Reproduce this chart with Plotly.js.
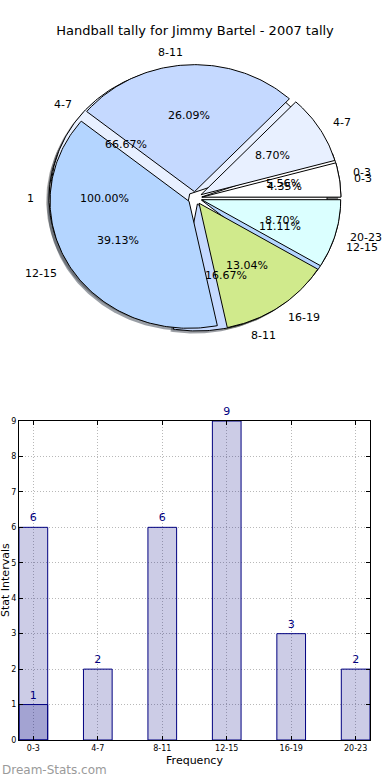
<!DOCTYPE html>
<html>
<head>
<meta charset="utf-8">
<script src="https://cdn.plot.ly/plotly-3.0.1.min.js"></script>
<style>html,body{margin:0;padding:0;background:#fff;}#chart{width:390px;height:780px;}</style>
</head>
<body>
<div id="chart"></div>
<script>
// ---------- data ----------
const chartTitle = "Handball tally for Jimmy Bartel - 2007 tally";
const pieOuterLabels = ["0-3", "4-7", "8-11", "12-15", "16-19", "20-23"];
const pieOuterValues = [1, 2, 6, 9, 3, 2];
const pieMiddleLabels = ["0-3", "4-7", "8-11", "12-15"];
const pieMiddleValues = [1, 12, 3, 2];
const pieBackLabels = ["1"];
const pieBackValues = [1];
const sliceColors = ["#ffffff", "#e8f0ff", "#c5d9ff", "#b4d5ff", "#d0ea8c", "#dbffff"];

const barCategories = ["0-3", "4-7", "8-11", "12-15", "16-19", "20-23"];
const barSeriesA = [1, 2, 6, 9, 3, 2];
const barSeriesBCategories = ["0-3"];
const barSeriesB = [6];
const xAxisTitle = "Frequency";
const yAxisTitle = "Stat Intervals";
const watermark = "Dream-Stats.com";

// ---------- pie geometry (drawn in axis units, radius 1) ----------
const EXPLODE = 0.05;
const SHADOW_OFF = -0.02;
const FONT = "DejaVu Sans, sans-serif";

function hexToRgb(h) {
  const n = parseInt(h.slice(1), 16);
  return [(n >> 16) & 255, (n >> 8) & 255, n & 255];
}

function buildPie(labels, values) {
  const total = values.reduce((a, b) => a + b, 0);
  let start = 0;
  const slices = [];
  values.forEach((v, i) => {
    const frac = v / total;
    const a1 = start * 2 * Math.PI;
    const a2 = (start + frac) * 2 * Math.PI;
    const am = (a1 + a2) / 2;
    const cx = EXPLODE * Math.cos(am), cy = EXPLODE * Math.sin(am);
    const xs = [], ys = [];
    const full = frac >= 0.9999;
    if (!full) { xs.push(cx); ys.push(cy); }
    const n = Math.max(2, Math.ceil((a2 - a1) / (Math.PI / 180)));
    for (let k = 0; k <= n; k++) {
      const a = a1 + (a2 - a1) * k / n;
      xs.push(cx + Math.cos(a)); ys.push(cy + Math.sin(a));
    }
    if (!full) { xs.push(cx); ys.push(cy); }
    slices.push({ xs, ys, am, cx, cy, color: sliceColors[i % sliceColors.length],
                  label: labels[i], pct: (frac * 100).toFixed(2) + "%" });
    start += frac;
  });
  return slices;
}

const pies = [buildPie(pieBackLabels, pieBackValues),
              buildPie(pieMiddleLabels, pieMiddleValues),
              buildPie(pieOuterLabels, pieOuterValues)];

const traces = [];
// shadows first (below every wedge)
pies.forEach(p => p.forEach(s => {
  const c = hexToRgb(s.color).map(v => Math.round(v * 0.3));
  traces.push({ type: "scatter", mode: "lines", xaxis: "x2", yaxis: "y2",
    x: s.xs.map(v => v + SHADOW_OFF), y: s.ys.map(v => v + SHADOW_OFF),
    fill: "toself", fillcolor: `rgba(${c[0]},${c[1]},${c[2]},0.5)`,
    line: { width: 0 }, hoverinfo: "skip", showlegend: false });
}));
// wedges
pies.forEach(p => p.forEach(s => {
  traces.push({ type: "scatter", mode: "lines", xaxis: "x2", yaxis: "y2",
    x: s.xs, y: s.ys, fill: "toself", fillcolor: s.color,
    line: { color: "#000000", width: 1 }, hoverinfo: "skip", showlegend: false });
}));

const annotations = [];
pies.forEach(p => p.forEach(s => {
  const c = Math.cos(s.am), sn = Math.sin(s.am);
  annotations.push({ xref: "x2", yref: "y2", x: s.cx + 1.1 * c, y: s.cy + 1.1 * sn,
    text: s.label, showarrow: false, xanchor: c > 0 ? "left" : "right", yanchor: "middle",
    borderpad: 0, font: { family: FONT, size: 11, color: "#000" } });
  annotations.push({ xref: "x2", yref: "y2", x: s.cx + 0.6 * c, y: s.cy + 0.6 * sn,
    text: s.pct, showarrow: false, xanchor: "center", yanchor: "middle",
    borderpad: 0, font: { family: FONT, size: 11, color: "#000" } });
}));

// ---------- bars ----------
traces.push({ type: "bar", x: barCategories, y: barSeriesA, width: 0.445,
  marker: { color: "rgba(0,0,128,0.2)", line: { color: "#000080", width: 1 } },
  text: barSeriesA.map(String), textposition: "outside", cliponaxis: false,
  textfont: { family: FONT, size: 11, color: "#000080" },
  hoverinfo: "skip", showlegend: false });
traces.push({ type: "bar", x: barSeriesBCategories, y: barSeriesB, width: 0.445,
  marker: { color: "rgba(0,0,128,0.2)", line: { color: "#000080", width: 1 } },
  text: barSeriesB.map(String), textposition: "outside", cliponaxis: false,
  textfont: { family: FONT, size: 11, color: "#000080" },
  hoverinfo: "skip", showlegend: false });

annotations.push({ xref: "paper", yref: "paper", x: 0, y: 1 - 770 / 780,
  xanchor: "left", yanchor: "middle", showarrow: false, text: watermark,
  font: { family: FONT, size: 12, color: "#9a9a9a" } });
annotations.push({ xref: "paper", yref: "paper", x: 5 / 390, y: 1 - 580 / 780,
  xanchor: "center", yanchor: "middle", showarrow: false, text: yAxisTitle, textangle: -90,
  borderpad: 0, font: { family: FONT, size: 11, color: "#000" } });

const RX = 139, RY = 127, CXp = 195, CYp = 198;
const axisCommon = { showline: true, linecolor: "#000", linewidth: 1, mirror: "ticks",
  ticks: "inside", ticklen: 4, tickcolor: "#000", showgrid: true, gridcolor: "#b8b8b8",
  griddash: "1px,2px", gridwidth: 1, zeroline: false,
  tickfont: { family: FONT, size: 8, color: "#000" } };

const layout = {
  width: 390, height: 780,
  margin: { l: 0, r: 0, t: 0, b: 0 },
  paper_bgcolor: "#fff", plot_bgcolor: "rgba(0,0,0,0)",
  title: { text: chartTitle, x: 0.5, xanchor: "center", y: 1 - 30 / 780, yanchor: "middle",
           font: { family: FONT, size: 13, color: "#000" } },
  showlegend: false,
  barmode: "overlay",
  xaxis: Object.assign({}, axisCommon, {
    domain: [19 / 390, 370 / 390], type: "category", categoryorder: "array",
    categoryarray: barCategories, range: [-0.2225, 5.2225], anchor: "y",
    title: { text: xAxisTitle, standoff: 4, font: { family: FONT, size: 11, color: "#000" } } }),
  yaxis: Object.assign({}, axisCommon, {
    domain: [1 - 740 / 780, 1 - 421 / 780], range: [0, 9], dtick: 1, anchor: "x" }),
  xaxis2: { domain: [0, 1], range: [-CXp / RX, (390 - CXp) / RX], visible: false, anchor: "y2", fixedrange: true },
  yaxis2: { domain: [0.5, 1], range: [-(390 - CYp) / RY, CYp / RY], visible: false, anchor: "x2", fixedrange: true },
  annotations: annotations
};

Plotly.newPlot("chart", traces, layout, { staticPlot: true, displayModeBar: false });
</script>
</body>
</html>
